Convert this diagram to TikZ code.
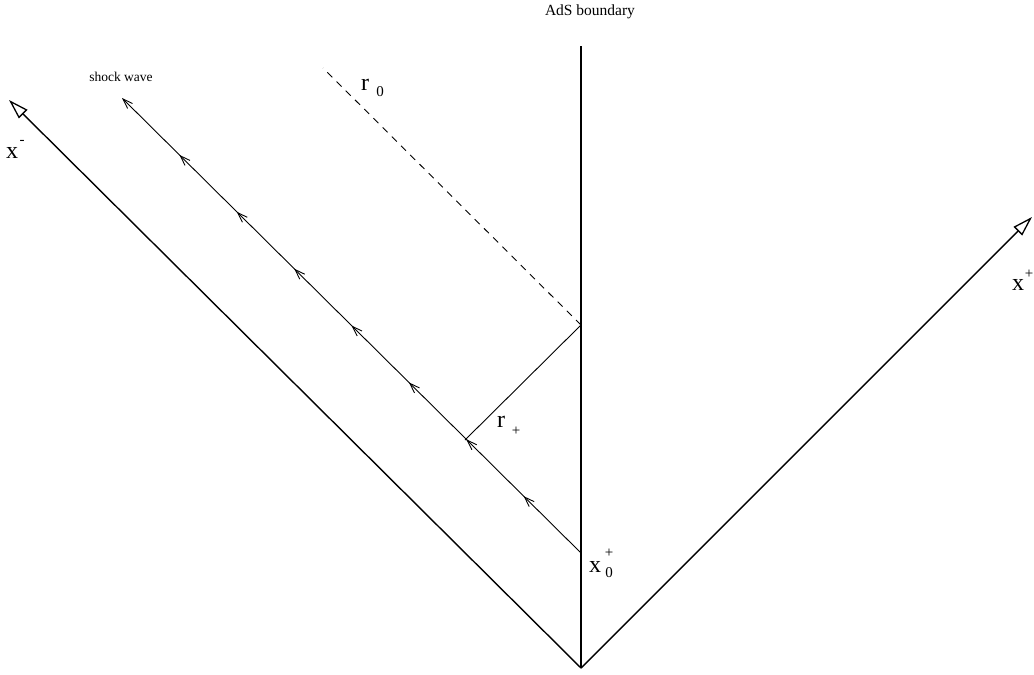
\documentclass[tikz,border=0pt]{standalone}
\usepackage{fontspec}
\setmainfont{Liberation Serif}
\usetikzlibrary{arrows.meta,decorations.markings}
\tikzset{
  axis/.style={line width=1.4pt,-{Triangle[open,length=20pt,width=12pt,line width=1.3pt]}},
  boundary/.style={line width=1.4pt},
  thin line/.style={line width=0.9pt},
  shock/.style={line width=0.9pt,-{Straight Barb[length=10pt,width=7pt,line width=0.9pt]},
    postaction={decorate},
    decoration={markings,
      mark=between positions 0.125 and 0.9 step 0.125 with {\arrow{Straight Barb[length=10pt,width=7pt,line width=0.9pt]}}}},
  big/.style={inner sep=0pt,font=\fontsize{24}{28}\selectfont},
  small/.style={inner sep=0pt,font=\fontsize{15}{18}\selectfont},
  lab/.style={inner sep=0pt,font=\fontsize{15.5}{18}\selectfont},
}
\begin{document}
\begin{tikzpicture}[x=1pt,y=-1pt]
\useasboundingbox (0,0) rectangle (1034,675);
\coordinate (O) at (581,668);
\coordinate (T) at (581,46);
\coordinate (L) at (9,100);
\coordinate (R) at (1032,217);
\coordinate (S0) at (581,553);
\coordinate (S1) at (122,98);
\coordinate (D0) at (581,325);
\coordinate (D1) at (323,68);
\coordinate (P) at (465,440);

\draw[boundary] (O) -- (T);
\draw[axis] (O) -- (L);
\draw[axis] (O) -- (R);
\draw[shock] (S0) -- (S1);
\draw[thin line,dashed,dash pattern=on 7pt off 6pt] (D0) -- (D1);
\draw[thin line] (P) -- (D0);

\node[lab] (ads) at (590,12) {AdS boundary};
\node[inner sep=0pt,font=\fontsize{13.5}{15}\selectfont] (sw) at (121,77) {shock wave};
\node[big] (xm) at (12,153) {x};
\node[small] (xms) at (22,142) {-};
\node[big] (xp) at (1018,285) {x};
\node[small] (xps) at (1029,274) {+};
\node[big] (r0) at (365,85) {r};
\node[small] (r0s) at (380,92) {0};
\node[big] (rp) at (501,422) {r};
\node[small] (rps) at (516,431) {+};
\node[big] (x0) at (595,567) {x};
\node[small] (x0p) at (609,553) {+};
\node[small] (x0s) at (609,573) {0};
\end{tikzpicture}
\end{document}
